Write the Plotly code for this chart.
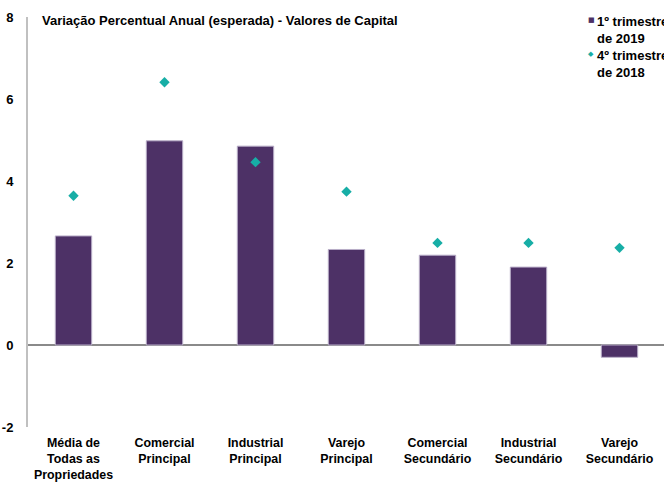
import plotly.graph_objects as go

# Categories and series values
categories = [
    "Média de<br>Todas as<br>Propriedades",
    "Comercial<br>Principal",
    "Industrial<br>Principal",
    "Varejo<br>Principal",
    "Comercial<br>Secundário",
    "Industrial<br>Secundário",
    "Varejo<br>Secundário",
]
q1_2019 = [2.66, 4.98, 4.85, 2.33, 2.19, 1.90, -0.30]
q4_2018 = [3.64, 6.41, 4.46, 3.74, 2.49, 2.49, 2.37]
y_ticks = [-2, 0, 2, 4, 6, 8]

title_text = "Variação Percentual Anual (esperada) - Valores de Capital"
series_names = ["1º trimestre<br>de 2019", "4º trimestre<br>de 2018"]

BAR_COLOR = "#4d3166"
DOT_COLOR = "#17aea6"
FONT = "Liberation Sans"
FS = 13

x_pos = list(range(len(categories)))

fig = go.Figure()
fig.add_trace(go.Bar(
    x=x_pos, y=q1_2019, name=series_names[0],
    marker=dict(color=BAR_COLOR, line=dict(color="#b9aec8", width=1)),
    width=0.4, showlegend=False,
))
fig.add_trace(go.Scatter(
    x=x_pos, y=q4_2018, name=series_names[1], mode="markers",
    marker=dict(symbol="diamond", size=8, color=DOT_COLOR),
    showlegend=False,
))

fig.update_layout(
    width=664, height=482,
    margin=dict(l=28, r=0, t=17, b=55, autoexpand=False),
    paper_bgcolor="white", plot_bgcolor="white",
    font=dict(family=FONT, size=FS, color="black"),
)
fig.update_xaxes(
    range=[-0.5, 6.489], automargin=False,
    tickvals=x_pos, ticktext=[f"<b>{c}</b>" for c in categories],
    showline=False, showgrid=False, zeroline=False,
    ticks="outside", ticklen=4, tickcolor="rgba(0,0,0,0)",
    tickfont=dict(family=FONT, size=12.4, color="black"),
)
fig.update_yaxes(
    range=[-2, 8], tickvals=y_ticks, automargin=False,
    ticktext=[f"<b>{v}</b>" for v in y_ticks],
    showgrid=False, showline=True, linecolor="#c0c0c0", linewidth=2,
    zeroline=True, zerolinecolor="#8a8a8a", zerolinewidth=1.5,
    ticks="outside", ticklen=10, tickcolor="rgba(0,0,0,0)",
    tickfont=dict(family=FONT, size=FS, color="black"),
)

# Chart title
fig.add_annotation(
    text=f"<b>{title_text}</b>", xref="paper", yref="paper",
    x=(40 - 28) / 636, y=1 - (20 - 17) / 410, xanchor="left", yanchor="middle",
    showarrow=False, font=dict(family=FONT, size=FS, color="black"),
)

# Legend entries (marker glyph + two-line label)
legend_rows = [("■", BAR_COLOR, series_names[0], 20, 7), ("◆", DOT_COLOR, series_names[1], 54, 7)]
for glyph, color, label, ypx, gsize in legend_rows:
    fig.add_annotation(
        text=glyph, xref="paper", yref="paper",
        x=(591 - 28) / 636, y=1 - (ypx - 17) / 410,
        xanchor="center", yanchor="middle", showarrow=False,
        font=dict(family="DejaVu Sans", size=gsize, color=color),
    )
    fig.add_annotation(
        text=f"<b>{label}</b>", xref="paper", yref="paper",
        x=(595 - 28) / 636, y=1 - (ypx - 8 - 17) / 410,
        xanchor="left", yanchor="top", align="left", showarrow=False,
        font=dict(family=FONT, size=FS, color="black"),
    )

fig.write_html("out.html")
